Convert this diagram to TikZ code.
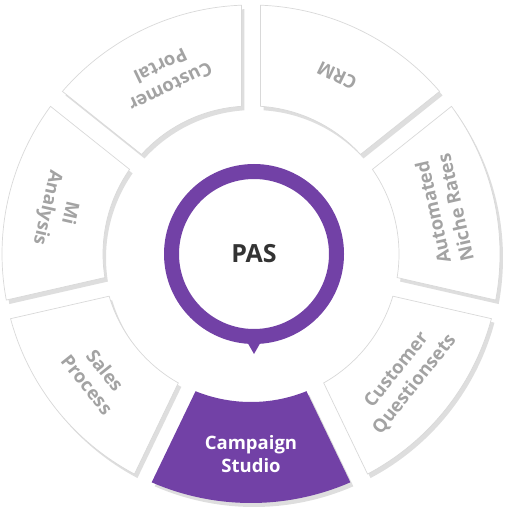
\documentclass[tikz,border=0pt]{standalone}
\usepackage{fontspec}
\setmainfont{Open Sans}
\definecolor{pasviolet}{HTML}{7241A6}
\definecolor{segline}{HTML}{D9D9D9}
\definecolor{segshadow}{HTML}{DEDEDE}
\definecolor{labelgray}{HTML}{A3A3A3}
\definecolor{pastext}{HTML}{333333}
\begin{document}
\begin{tikzpicture}[x=1pt, y=1pt,
    segbox/.style={fill=white, draw=segline, line width=0.7pt},
    segactive/.style={fill=pasviolet},
    seglabel/.style={text=labelgray, font=\bfseries\fontsize{18.5}{23}\selectfont, align=center},
    activelabel/.style={text=white, font=\bfseries\fontsize{18.5}{23}\selectfont, align=center}]
    \useasboundingbox (0,0) rectangle (510,-510);

    \begin{scope}[shift={(251,-254)}]
        % Draw the seven ring segments with their shadows
        \foreach \a/\segstyle in {90/segbox, 141.43/segbox, 192.86/segbox, 244.29/segactive, 295.71/segbox, 347.14/segbox, 398.57/segbox} {
            \pgfmathsetmacro{\b}{\a+51.43}
            \fill[segshadow, shift={(3,-4)}] (\a+3.7:148pt) -- (\a+2.2:249pt)
                arc[start angle=\a+2.2, end angle=\b-2.2, radius=249pt]
                -- (\b-3.7:148pt) arc[start angle=\b-3.7, end angle=\a+3.7, radius=148pt] -- cycle;
            \path[\segstyle] (\a+3.7:148pt) -- (\a+2.2:249pt)
                arc[start angle=\a+2.2, end angle=\b-2.2, radius=249pt]
                -- (\b-3.7:148pt) arc[start angle=\b-3.7, end angle=\a+3.7, radius=148pt] -- cycle;
        }

        % Draw the segment labels
        \node[seglabel, rotate=205.71] (portal) at (115.71:197pt) {Customer\\Portal};
        \node[seglabel, rotate=257.14] (mi) at (167.14:198pt) {Mi\\Analysis};
        \node[seglabel, rotate=308.57] (sales) at (218.57:198pt) {Sales\\Process};
        \node[activelabel] (campaign) at (270:200pt) {Campaign\\Studio};
        \node[seglabel, rotate=51.43] (questions) at (321.43:198pt) {Customer\\Questionsets};
        \node[seglabel, rotate=102.86] (niche) at (12.86:198pt) {Automated\\Niche Rates};
        \node[seglabel, rotate=154.29] (crm) at (64.29:198pt) {CRM};
    \end{scope}

    % Draw the center circle and its pointer
    \node[circle, fill=white, draw=pasviolet, line width=15pt, minimum size=165pt,
        text=pastext, font=\bfseries\fontsize{25}{30}\selectfont] (pas) at (254,-254) {PAS};
    \fill[pasviolet] ([xshift=-8pt, yshift=4pt]pas.south) -- ([xshift=8pt, yshift=4pt]pas.south)
        -- ([yshift=-10pt]pas.south) -- cycle;
\end{tikzpicture}
\end{document}
